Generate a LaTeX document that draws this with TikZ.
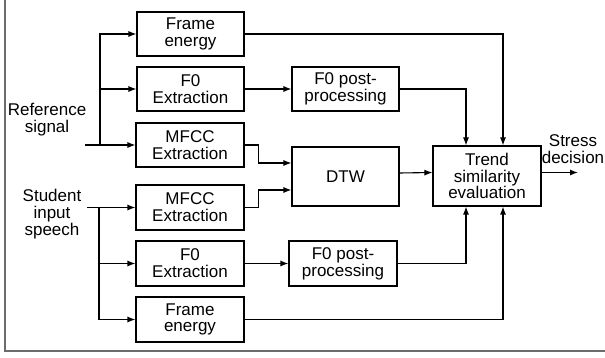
\documentclass[tikz,border=0pt]{standalone}
\usepackage{fontspec}
\setmainfont{Liberation Sans}
\usetikzlibrary{arrows.meta}
\begin{document}
\begin{tikzpicture}[x=1pt,y=-1pt,
  font=\fontsize{17}{16.8}\selectfont,
  blockbox/.style={draw=black,line width=1.1pt,align=center,inner sep=0pt},
  lbl/.style={align=center,inner sep=0pt},
  arr/.style={draw=black,line width=1.1pt,-{Latex[length=8pt,width=6pt]}},
  wire/.style={draw=black,line width=1.1pt}]
\useasboundingbox (0,0) rectangle (605,358);
% frame
\draw[gray!85!black,line width=1.4pt] (5,0) -- (5,351) -- (605,351);

% reference branch
\node[blockbox,minimum width=107pt,minimum height=44pt] (feA) at (190.5,34) {Frame\\energy};
\node[blockbox,minimum width=107pt,minimum height=44pt] (f0A) at (190.5,89) {F0\\Extraction};
\node[blockbox,minimum width=108pt,minimum height=44pt] (mfA) at (190,145) {MFCC\\Extraction};
\node[blockbox,minimum width=107pt,minimum height=44pt] (ppA) at (345.5,89) {F0 post-\\processing};

% shared blocks
\node[blockbox,minimum width=107pt,minimum height=59pt] (dtw) at (345.5,176.5) {DTW};
\node[blockbox,minimum width=108pt,minimum height=60pt] (trend) at (487,176) {Trend\\similarity\\evaluation};

% student branch
\node[blockbox,minimum width=108pt,minimum height=45pt] (mfB) at (190,207.5) {MFCC\\Extraction};
\node[blockbox,minimum width=108pt,minimum height=45pt] (f0B) at (190,263.5) {F0\\Extraction};
\node[blockbox,minimum width=108pt,minimum height=45pt] (feB) at (190,319.5) {Frame\\energy};
\node[blockbox,minimum width=108pt,minimum height=45pt] (ppB) at (343,263.5) {F0 post-\\processing};

% labels
\node[lbl] (reflbl) at (47,120) {Reference\\signal};
\node[lbl] (stulbl) at (52,214) {Student\\input\\speech};
\node[lbl] (outlbl) at (573,149) {Stress\\decision};

% input splits
\coordinate (refin) at (85,145);
\coordinate (refsplit) at (100,145);
\coordinate (stuin) at (87,207.5);
\coordinate (stusplit) at (99,207.5);
\coordinate (out) at (578,172.5);

\draw[arr] (refin) -- (mfA.west);
\draw[arr] (refsplit) |- (feA.west);
\draw[arr] (refsplit) |- (f0A.west);
\draw[arr] (stuin) -- (mfB.west);
\draw[arr] (stusplit) |- (f0B.west);
\draw[arr] (stusplit) |- (feB.west);

% feature paths
\draw[arr] (f0A.east) -- (ppA.west);
\draw[arr] (f0B.east) -- (ppB.west);
\draw[arr] (mfA.east) -- ++(14,0) |- ([yshift=13.5pt]dtw.west);
\draw[arr] (mfB.east) -- ++(14,0) |- ([yshift=-13.5pt]dtw.west);
\draw[arr] ([yshift=3.5pt]dtw.east) -- ([yshift=3.5pt]trend.west);

% into the evaluation block
\draw[arr] (ppA.east) -| ([xshift=-21pt]trend.north);
\draw[arr] (feA.east) -| ([xshift=16pt]trend.north);
\draw[arr] (ppB.east) -| ([xshift=-21pt]trend.south);
\draw[arr] (feB.east) -| ([xshift=16pt]trend.south);

% output
\draw[arr] ([yshift=3.5pt]trend.east) -- (out);
\end{tikzpicture}
\end{document}
